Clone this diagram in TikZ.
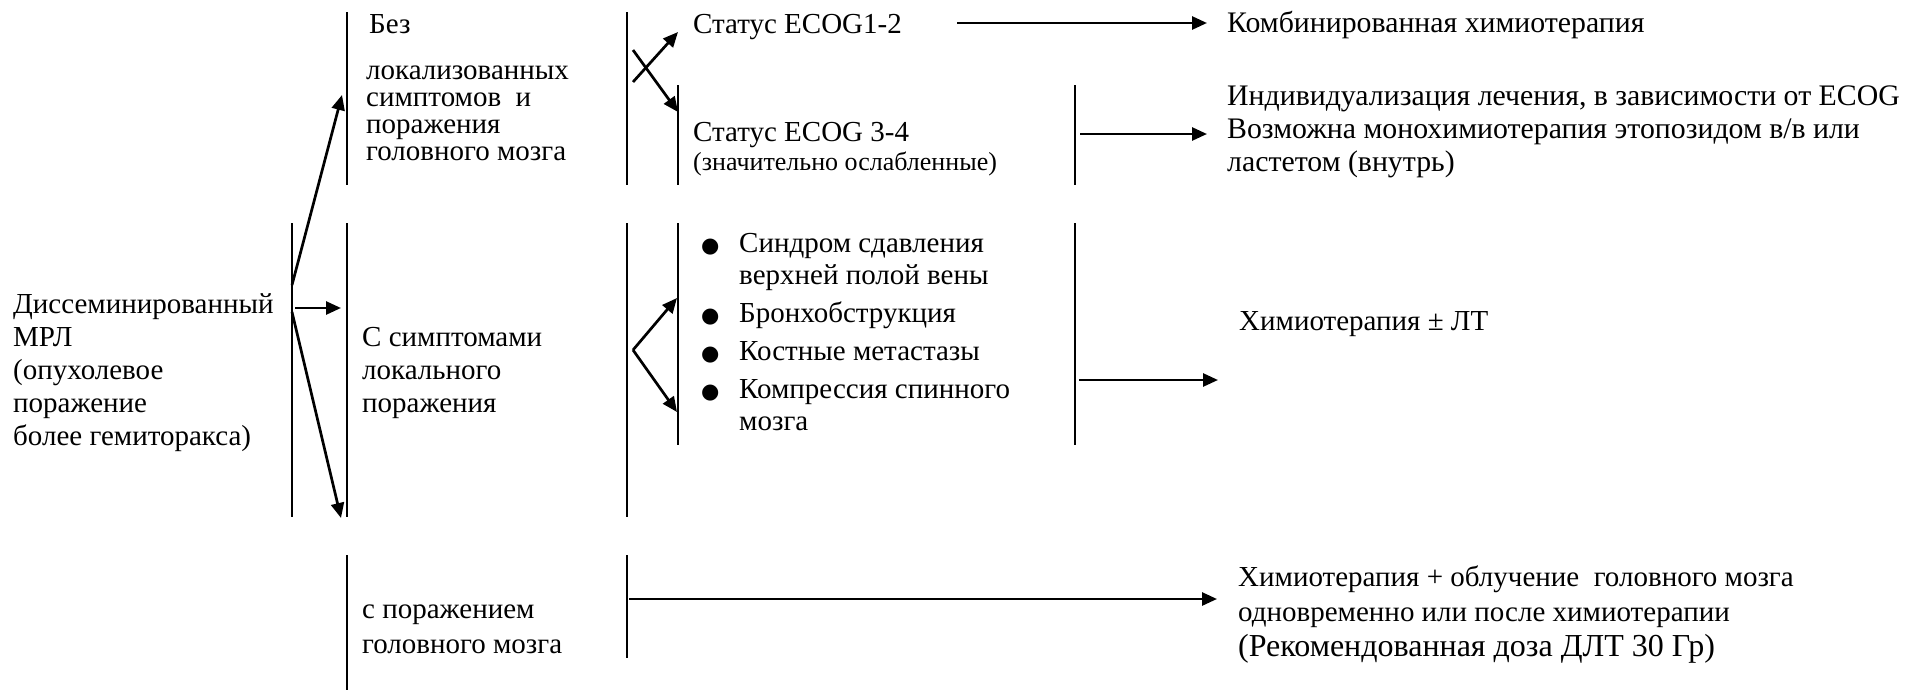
\documentclass[tikz,border=0pt]{standalone}
\usepackage{fontspec}
\setmainfont{Liberation Serif}
\newfontfamily\symfont{DejaVu Sans}
\usetikzlibrary{arrows.meta}
\newcommand\vlines[2]{\vtop{\baselineskip=#1\relax\lineskiplimit=-30pt\relax\halign{##\hfil\cr#2\crcr}}}
\newcommand\blist[2]{\vtop{\baselineskip=#1\relax\lineskiplimit=-30pt\relax\halign{\hbox to 38pt{##\hfil}&##\hfil\cr#2\crcr}}}
\newcommand\bul{{\symfont\fontsize{21pt}{21pt}\selectfont ●}}
\tikzset{
  bar/.style={line width=2.8pt},
  arr/.style={line width=2.7pt,-{Triangle[length=15pt,width=13pt]}},
  txt/.style={inner sep=0pt,anchor=base west,font=\fontsize{29pt}{33pt}\selectfont},
  rtxt/.style={txt,font=\fontsize{29.8pt}{33pt}\selectfont},
}
\begin{document}
\begin{tikzpicture}[x=1pt,y=-1pt]
\useasboundingbox[fill=white] (0,0) rectangle (1908,691);

% ---- bars (paragraph borders)
\draw[bar] (347,12) -- (347,185);
\draw[bar] (627,12) -- (627,185);
\draw[bar] (678,85) -- (678,185);
\draw[bar] (1075,85) -- (1075,185);
\draw[bar] (292,223) -- (292,517);
\draw[bar] (347,223) -- (347,517);
\draw[bar] (627,223) -- (627,517);
\draw[bar] (678,223) -- (678,445);
\draw[bar] (1075,223) -- (1075,445);
\draw[bar] (347,555) -- (347,690);
\draw[bar] (627,555) -- (627,658);

% ---- texts
\node[txt] (left) at (13,313) {\vlines{33pt}{Диссеминированный\cr МРЛ\cr (опухолевое\cr поражение\cr более гемиторакса)}};
\node[txt] (bez) at (366,33) {\vlines{27pt}{\kern3pt Без\cr\noalign{\vskip 19pt}локализованных\cr симптомов\ \ и\cr поражения\cr головного мозга}};
\node[txt] (e12) at (693,33) {Статус ECOG1-2};
\node[txt] (e34) at (693,141) {\vlines{29pt}{Статус ECOG 3-4\cr{\fontsize{26pt}{29pt}\selectfont(значительно ослабленные)}}};
\node[rtxt] (komb) at (1227,32) {Комбинированная химиотерапия};
\node[rtxt] (indiv) at (1227,105) {\vlines{33pt}{Индивидуализация лечения, в зависимости от ECOG\cr Возможна монохимиотерапия этопозидом в/в или\cr ластетом (внутрь)}};
\node[txt] (csim) at (362,346) {\vlines{33pt}{С симптомами\cr локального\cr поражения}};
\node[txt] (list) at (701,252) {\blist{32pt}{\bul&Синдром сдавления\cr &верхней полой вены\cr\noalign{\vskip 6pt}\bul&Бронхобструкция\cr\noalign{\vskip 6pt}\bul&Костные метастазы\cr\noalign{\vskip 6pt}\bul&Компрессия спинного\cr &мозга}};
\node[txt] (hlt) at (1239,330) {Химиотерапия ± ЛТ};
\node[txt] (cpor) at (362,618) {\vlines{35pt}{с поражением\cr головного мозга}};
\node[txt] (hob) at (1238,586) {\vlines{35pt}{Химиотерапия + облучение\ \ головного мозга\cr одновременно или после химиотерапии\cr{\fontsize{32pt}{35pt}\selectfont(Рекомендованная доза ДЛТ 30 Гр)}}};

% ---- connector end points
\coordinate (s1) at (292,285); \coordinate (t1) at (342,95);
\coordinate (s2) at (295,308); \coordinate (t2) at (341,308);
\coordinate (s3) at (292,312); \coordinate (t3) at (341,518);
\coordinate (s4) at (633,82);  \coordinate (t4) at (678,32);
\coordinate (s5) at (633,50);  \coordinate (t5) at (678,112);
\coordinate (v)  at (633,350); \coordinate (t6) at (677,298); \coordinate (t7) at (677,412);
\coordinate (s8) at (957,23);  \coordinate (t8) at (1207,23);
\coordinate (s9) at (1080,134); \coordinate (t9) at (1207,134);
\coordinate (s10) at (1079,380); \coordinate (t10) at (1218,380);
\coordinate (s11) at (629,599); \coordinate (t11) at (1217,599);

% ---- connectors
\draw[arr] (s1) -- (t1);
\draw[arr] (s2) -- (t2);
\draw[arr] (s3) -- (t3);
\draw[arr] (s4) -- (t4);
\draw[arr] (s5) -- (t5);
\draw[arr] (v) -- (t6);
\draw[arr] (v) -- (t7);
\draw[arr] (s8) -- (t8);
\draw[arr] (s9) -- (t9);
\draw[arr] (s10) -- (t10);
\draw[arr] (s11) -- (t11);
\end{tikzpicture}
\end{document}
